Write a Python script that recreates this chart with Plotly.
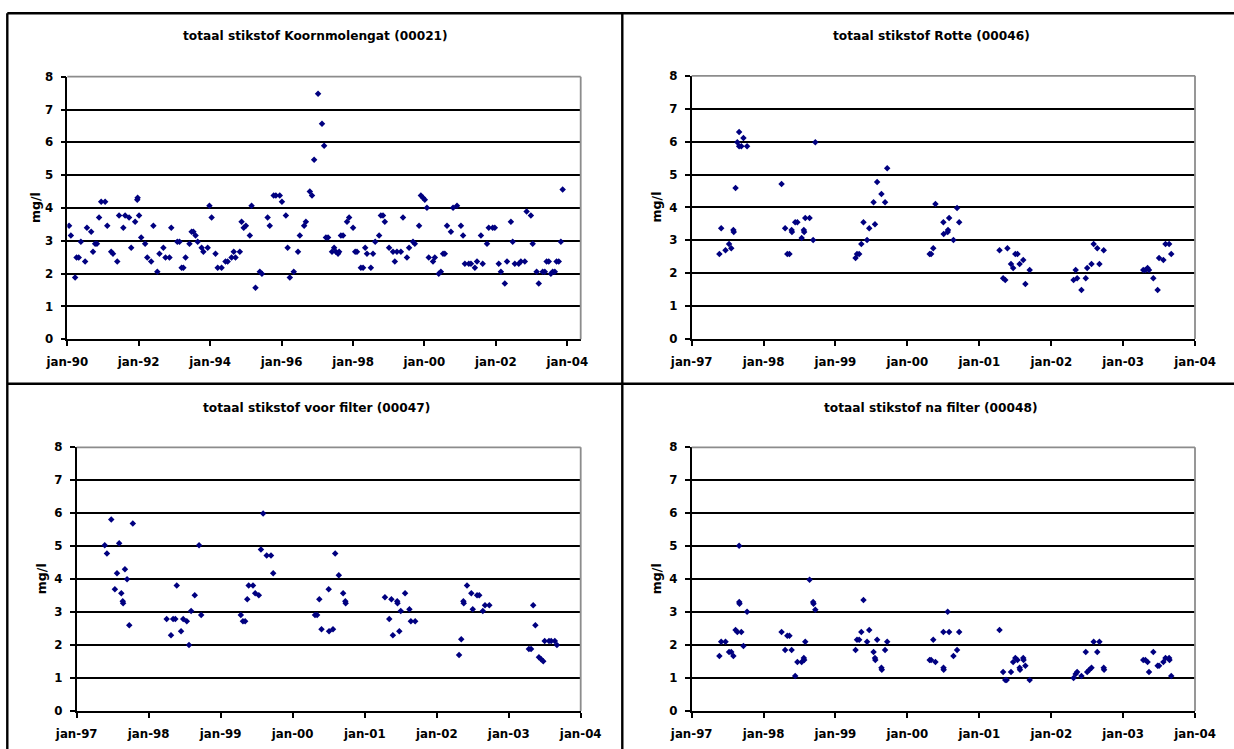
import numpy as np
import pandas as pd
import plotly.graph_objects as go

# ---------------- data (decimal year, mg/l) ----------------
koorn_t = [1990.05, 1990.10, 1990.22, 1990.26, 1990.32, 1990.38, 1990.50, 1990.55, 1990.67, 1990.72,
           1990.78, 1990.83, 1990.89, 1990.95, 1991.06, 1991.12, 1991.23, 1991.28, 1991.40, 1991.45,
           1991.57, 1991.62, 1991.73, 1991.79, 1991.90, 1991.96, 1991.97, 1992.01, 1992.07, 1992.18,
           1992.24, 1992.35, 1992.41, 1992.52, 1992.58, 1992.69, 1992.75, 1992.86, 1992.91, 1993.08,
           1993.14, 1993.20, 1993.25, 1993.31, 1993.42, 1993.48, 1993.53, 1993.59, 1993.65, 1993.76,
           1993.81, 1993.93, 1993.98, 1994.04, 1994.15, 1994.21, 1994.32, 1994.43, 1994.49, 1994.60,
           1994.66, 1994.71, 1994.83, 1994.88, 1994.94, 1995.00, 1995.11, 1995.16, 1995.27, 1995.39,
           1995.45, 1995.61, 1995.67, 1995.78, 1995.84, 1995.95, 1996.01, 1996.12, 1996.17, 1996.23,
           1996.34, 1996.46, 1996.51, 1996.63, 1996.68, 1996.79, 1996.85, 1996.91, 1997.02, 1997.13,
           1997.19, 1997.24, 1997.30, 1997.41, 1997.47, 1997.52, 1997.58, 1997.61, 1997.66, 1997.72,
           1997.83, 1997.89, 1998.00, 1998.06, 1998.11, 1998.22, 1998.28, 1998.34, 1998.39, 1998.50,
           1998.56, 1998.62, 1998.73, 1998.78, 1998.84, 1998.89, 1999.01, 1999.12, 1999.17, 1999.23,
           1999.34, 1999.40, 1999.51, 1999.57, 1999.68, 1999.73, 1999.85, 1999.90, 1999.96, 2000.01,
           2000.07, 2000.12, 2000.24, 2000.29, 2000.40, 2000.46, 2000.52, 2000.57, 2000.63, 2000.74,
           2000.80, 2000.91, 2001.02, 2001.08, 2001.13, 2001.24, 2001.30, 2001.41, 2001.47, 2001.58,
           2001.63, 2001.75, 2001.80, 2001.91, 2001.97, 2002.08, 2002.14, 2002.25, 2002.31, 2002.42,
           2002.47, 2002.53, 2002.64, 2002.70, 2002.81, 2002.86, 2002.98, 2003.03, 2003.14, 2003.20,
           2003.31, 2003.37, 2003.42, 2003.48, 2003.54, 2003.59, 2003.65, 2003.70, 2003.76, 2003.82,
           2003.87]
koorn_v = [3.46, 3.16, 1.88, 2.49, 2.49, 2.97, 2.37, 3.40, 3.28, 2.67,
           2.91, 2.91, 3.71, 4.19, 4.19, 3.46, 2.67, 2.61, 2.37, 3.77,
           3.40, 3.77, 3.71, 2.79, 3.58, 4.25, 4.31, 3.77, 3.10, 2.91,
           2.49, 2.37, 3.46, 2.06, 2.61, 2.79, 2.49, 2.49, 3.40, 2.97,
           2.97, 2.18, 2.18, 2.49, 2.91, 3.28, 3.28, 3.16, 2.97, 2.79,
           2.67, 2.79, 4.07, 3.71, 2.61, 2.18, 2.18, 2.37, 2.37, 2.49,
           2.67, 2.49, 2.67, 3.58, 3.40, 3.46, 3.16, 4.07, 1.57, 2.06,
           2.00, 3.71, 3.46, 4.38, 4.38, 4.38, 4.19, 3.77, 2.79, 1.88,
           2.06, 2.67, 3.16, 3.46, 3.58, 4.50, 4.38, 5.47, 7.48, 6.57,
           5.90, 3.10, 3.10, 2.67, 2.79, 2.67, 2.61, 2.67, 3.16, 3.16,
           3.58, 3.71, 3.40, 2.67, 2.67, 2.18, 2.18, 2.79, 2.61, 2.18,
           2.61, 2.97, 3.16, 3.77, 3.77, 3.58, 2.79, 2.67, 2.37, 2.67,
           2.67, 3.71, 2.49, 2.79, 2.97, 2.91, 3.46, 4.38, 4.31, 4.25,
           4.01, 2.49, 2.37, 2.49, 2.00, 2.06, 2.61, 2.61, 3.46, 3.28,
           4.01, 4.07, 3.46, 3.16, 2.30, 2.30, 2.30, 2.18, 2.37, 3.16,
           2.30, 2.91, 3.40, 3.40, 3.40, 2.30, 2.06, 1.70, 2.37, 3.58,
           2.97, 2.30, 2.30, 2.37, 2.37, 3.89, 3.77, 2.91, 2.06, 1.70,
           2.06, 2.06, 2.37, 2.37, 2.00, 2.06, 2.06, 2.37, 2.37, 2.97,
           4.56]

rotte_t = [1997.385, 1997.41, 1997.47, 1997.52, 1997.55, 1997.58, 1997.585, 1997.61, 1997.635, 1997.66,
           1997.66, 1997.69, 1997.72, 1997.77,
           1998.25, 1998.30, 1998.33, 1998.36, 1998.39, 1998.395, 1998.44, 1998.47, 1998.53, 1998.56,
           1998.565, 1998.58, 1998.64, 1998.69, 1998.72,
           1999.28, 1999.30, 1999.33, 1999.36, 1999.39, 1999.44, 1999.47, 1999.53, 1999.55, 1999.58,
           1999.64, 1999.69, 1999.72,
           2000.31, 2000.33, 2000.36, 2000.39, 2000.50, 2000.505, 2000.56, 2000.565, 2000.58, 2000.64,
           2000.69, 2000.72,
           2001.28, 2001.33, 2001.36, 2001.39, 2001.44, 2001.47, 2001.50, 2001.53, 2001.56, 2001.61,
           2001.64, 2001.70,
           2002.31, 2002.34, 2002.36, 2002.42, 2002.48, 2002.50, 2002.56, 2002.59, 2002.64, 2002.67,
           2002.73,
           2003.28, 2003.31, 2003.34, 2003.36, 2003.42, 2003.48, 2003.50, 2003.56, 2003.59, 2003.64,
           2003.67]
rotte_v = [2.58, 3.37, 2.70, 2.89, 2.76, 3.31, 3.25, 4.59, 5.98, 6.29,
           5.86, 5.86, 6.11, 5.86,
           4.71, 3.37, 2.58, 2.58, 3.31, 3.25, 3.55, 3.55, 3.07, 3.31,
           3.25, 3.68, 3.68, 3.01, 5.98,
           2.46, 2.58, 2.58, 2.89, 3.55, 3.01, 3.37, 4.16, 3.49, 4.77,
           4.41, 4.16, 5.19,
           2.58, 2.58, 2.76, 4.10, 3.55, 3.19, 3.25, 3.31, 3.68, 3.01,
           3.98, 3.55,
           2.70, 1.85, 1.79, 2.76, 2.28, 2.16, 2.58, 2.58, 2.28, 2.40,
           1.67, 2.10,
           1.79, 2.10, 1.85, 1.49, 1.85, 2.16, 2.28, 2.89, 2.76, 2.28,
           2.70,
           2.10, 2.10, 2.16, 2.10, 1.85, 1.49, 2.46, 2.40, 2.89, 2.89,
           2.58]

voor_t = [1997.39, 1997.42, 1997.48, 1997.53, 1997.56, 1997.59, 1997.62, 1997.64, 1997.645, 1997.67,
          1997.70, 1997.73, 1997.78,
          1998.25, 1998.31, 1998.34, 1998.37, 1998.39, 1998.45, 1998.48, 1998.53, 1998.56, 1998.59,
          1998.64, 1998.70, 1998.73,
          1999.28, 1999.31, 1999.34, 1999.37, 1999.39, 1999.45, 1999.48, 1999.53, 1999.56, 1999.59,
          1999.64, 1999.70, 1999.73,
          2000.31, 2000.34, 2000.37, 2000.40, 2000.50, 2000.505, 2000.56, 2000.59, 2000.64, 2000.70,
          2000.73, 2000.735,
          2001.28, 2001.34, 2001.37, 2001.39, 2001.45, 2001.455, 2001.48, 2001.50, 2001.56, 2001.62,
          2001.64, 2001.70,
          2002.31, 2002.34, 2002.37, 2002.375, 2002.42, 2002.48, 2002.50, 2002.56, 2002.59, 2002.64,
          2002.67, 2002.73,
          2003.28, 2003.31, 2003.34, 2003.37, 2003.42, 2003.45, 2003.48, 2003.50, 2003.56, 2003.59,
          2003.64, 2003.67]
voor_v = [5.03, 4.78, 5.81, 3.69, 4.18, 5.09, 3.57, 3.33, 3.27, 4.30,
          4.00, 2.60, 5.69,
          2.79, 2.30, 2.79, 2.79, 3.81, 2.42, 2.79, 2.72, 2.00, 3.03,
          3.51, 5.03, 2.91,
          2.91, 2.72, 2.72, 3.39, 3.81, 3.81, 3.57, 3.51, 4.90, 5.99,
          4.72, 4.72, 4.18,
          2.91, 2.91, 3.39, 2.48, 3.69, 2.42, 2.48, 4.78, 4.12, 3.57,
          3.33, 3.27,
          3.45, 2.79, 3.39, 2.30, 3.33, 3.27, 2.42, 3.03, 3.57, 3.09,
          2.72, 2.72,
          1.70, 2.18, 3.33, 3.27, 3.81, 3.57, 3.09, 3.51, 3.51, 3.03,
          3.21, 3.21,
          1.88, 1.88, 3.21, 2.60, 1.63, 1.57, 1.51, 2.12, 2.12, 2.12,
          2.12, 2.00]

na_t = [1997.385, 1997.41, 1997.47, 1997.52, 1997.55, 1997.58, 1997.61, 1997.635, 1997.66, 1997.662,
        1997.665, 1997.69, 1997.72, 1997.77,
        1998.25, 1998.30, 1998.33, 1998.36, 1998.39, 1998.44, 1998.47, 1998.53, 1998.56, 1998.565,
        1998.58, 1998.64, 1998.69, 1998.695, 1998.72,
        1999.28, 1999.30, 1999.33, 1999.36, 1999.39, 1999.44, 1999.47, 1999.53, 1999.55, 1999.555,
        1999.58, 1999.64, 1999.645, 1999.69, 1999.72,
        2000.31, 2000.33, 2000.36, 2000.39, 2000.50, 2000.502, 2000.505, 2000.56, 2000.58, 2000.64,
        2000.69, 2000.72,
        2001.28, 2001.33, 2001.36, 2001.38, 2001.44, 2001.47, 2001.50, 2001.53, 2001.56, 2001.565,
        2001.61, 2001.615, 2001.64, 2001.70,
        2002.31, 2002.34, 2002.36, 2002.42, 2002.48, 2002.50, 2002.53, 2002.56, 2002.59, 2002.64,
        2002.67, 2002.73, 2002.735,
        2003.28, 2003.31, 2003.34, 2003.36, 2003.42, 2003.48, 2003.50, 2003.56, 2003.59, 2003.64,
        2003.645, 2003.67]
na_v = [1.67, 2.10, 2.10, 1.79, 1.79, 1.67, 2.46, 2.40, 5.01, 3.31,
        3.25, 2.40, 1.97, 3.01,
        2.40, 1.85, 2.28, 2.28, 1.85, 1.06, 1.49, 1.49, 1.61, 1.55,
        2.10, 3.98, 3.31, 3.25, 3.07,
        1.85, 2.16, 2.16, 2.40, 3.37, 2.10, 2.46, 1.79, 1.61, 1.55,
        2.16, 1.31, 1.25, 1.85, 2.10,
        1.55, 1.55, 2.16, 1.49, 2.40, 1.31, 1.25, 3.01, 2.40, 1.67,
        1.85, 2.40,
        2.46, 1.18, 0.94, 0.94, 1.18, 1.49, 1.61, 1.55, 1.31, 1.25,
        1.61, 1.55, 1.37, 0.94,
        1.00, 1.12, 1.18, 1.06, 1.79, 1.18, 1.25, 1.31, 2.10, 1.79,
        2.10, 1.31, 1.25,
        1.55, 1.55, 1.49, 1.18, 1.79, 1.37, 1.37, 1.49, 1.61, 1.61,
        1.55, 1.06]

titles = ["totaal stikstof Koornmolengat (00021)", "totaal stikstof Rotte (00046)",
          "totaal stikstof voor filter (00047)", "totaal stikstof na filter (00048)"]
ticks_long = ["jan-90", "jan-92", "jan-94", "jan-96", "jan-98", "jan-00", "jan-02", "jan-04"]
ticks_long_dates = ["1990-01-01", "1992-01-01", "1994-01-01", "1996-01-01",
                    "1998-01-01", "2000-01-01", "2002-01-01", "2004-01-01"]
ticks_short = ["jan-97", "jan-98", "jan-99", "jan-00", "jan-01", "jan-02", "jan-03", "jan-04"]
ticks_short_dates = ["1997-01-01", "1998-01-01", "1999-01-01", "2000-01-01",
                     "2001-01-01", "2002-01-01", "2003-01-01", "2004-01-01"]
y_label = "mg/l"
y_ticks = [0, 1, 2, 3, 4, 5, 6, 7, 8]


def to_dates(years):
    out = []
    for y in years:
        yr = int(np.floor(y))
        start = pd.Timestamp(year=yr, month=1, day=1)
        end = pd.Timestamp(year=yr + 1, month=1, day=1)
        out.append(start + (end - start) * (y - yr))
    return out


W, H = 1234, 749
FONT = "DejaVu Sans"
NAVY = "#000080"

panels = [
    dict(t=koorn_t, v=koorn_v, title=titles[0], xl=67.3, xr=580.7, yt=76.7, yb=339.3,
         rng=["1990-01-01", "2004-05-17"], tv=ticks_long_dates, tt=ticks_long, cx=315, ty=36, lx=35),
    dict(t=rotte_t, v=rotte_v, title=titles[1], xl=691.7, xr=1195.0, yt=75.8, yb=339.0,
         rng=["1997-01-01", "2004-01-01"], tv=ticks_short_dates, tt=ticks_short, cx=931, ty=36, lx=656),
    dict(t=voor_t, v=voor_v, title=titles[2], xl=76.7, xr=580.7, yt=447.3, yb=711.0,
         rng=["1997-01-01", "2004-01-01"], tv=ticks_short_dates, tt=ticks_short, cx=316, ty=408, lx=41),
    dict(t=na_t, v=na_v, title=titles[3], xl=691.7, xr=1195.0, yt=447.3, yb=711.0,
         rng=["1997-01-01", "2004-01-01"], tv=ticks_short_dates, tt=ticks_short, cx=931, ty=408, lx=656),
]

fig = go.Figure()
layout = dict(width=W, height=H, margin=dict(l=0, r=0, t=0, b=0, pad=0),
              paper_bgcolor="white", plot_bgcolor="white", showlegend=False,
              font=dict(family=FONT, color="black"))
shapes = []
annotations = []

for i, p in enumerate(panels, start=1):
    sfx = "" if i == 1 else str(i)
    xa, ya = "xaxis" + sfx, "yaxis" + sfx
    fig.add_trace(go.Scatter(
        x=to_dates(p["t"]), y=p["v"], mode="markers",
        marker=dict(symbol="diamond", size=5, color=NAVY, line=dict(width=0)),
        xaxis="x" + sfx, yaxis="y" + sfx, hoverinfo="skip"))
    layout[xa] = dict(domain=[p["xl"] / W, p["xr"] / W], anchor="y" + sfx, type="date",
                      range=p["rng"], tickvals=p["tv"], ticktext=p["tt"],
                      showgrid=False, zeroline=False, showline=True, linecolor="black", linewidth=1.6,
                      ticks="outside", ticklen=5, tickwidth=1.6, tickcolor="black",
                      tickfont=dict(family=FONT, size=11.8, color="black", weight="bold"),
                      ticklabelstandoff=6, automargin=False, fixedrange=True)
    layout[ya] = dict(domain=[1 - p["yb"] / H, 1 - p["yt"] / H], anchor="x" + sfx,
                      range=[0, 8], tickvals=y_ticks, showgrid=True, gridcolor="black", gridwidth=1.6,
                      zeroline=False, showline=True, linecolor="black", linewidth=1.6,
                      ticks="outside", ticklen=5, tickwidth=1.6, tickcolor="black",
                      tickfont=dict(family=FONT, size=11.8, color="black", weight="bold"),
                      ticklabelstandoff=5, automargin=False, fixedrange=True)
    # gray plot-area border (top and right)
    shapes.append(dict(type="line", xref="x" + sfx + " domain", yref="y" + sfx + " domain",
                       x0=0, x1=1, y0=1, y1=1, line=dict(color="#8c8c8c", width=1.8), layer="above"))
    shapes.append(dict(type="line", xref="x" + sfx + " domain", yref="y" + sfx + " domain",
                       x0=1, x1=1, y0=0, y1=1, line=dict(color="#8c8c8c", width=1.8), layer="above"))
    annotations.append(dict(text="<b>" + p["title"] + "</b>", x=p["cx"] / W, y=1 - p["ty"] / H,
                            xref="paper", yref="paper", xanchor="center", yanchor="middle",
                            showarrow=False, font=dict(family=FONT, size=12.2, color="black")))
    annotations.append(dict(text="<b>" + y_label + "</b>", x=p["lx"] / W,
                            y=1 - (p["yt"] + p["yb"]) / 2 / H, textangle=-90,
                            xref="paper", yref="paper", xanchor="center", yanchor="middle",
                            showarrow=False, font=dict(family=FONT, size=12.5, color="black")))

# outer cell frame
FR = dict(color="black", width=2.4)
shapes += [
    dict(type="line", xref="paper", yref="paper", x0=7.3 / W, x1=1.0, y0=1 - 13.3 / H, y1=1 - 13.3 / H, line=FR),
    dict(type="line", xref="paper", yref="paper", x0=7.3 / W, x1=7.3 / W, y0=0, y1=1 - 13.3 / H, line=FR),
    dict(type="line", xref="paper", yref="paper", x0=622.3 / W, x1=622.3 / W, y0=0, y1=1 - 13.3 / H, line=FR),
    dict(type="line", xref="paper", yref="paper", x0=7.3 / W, x1=1.0, y0=1 - 383.7 / H, y1=1 - 383.7 / H, line=FR),
]
layout["shapes"] = shapes
layout["annotations"] = annotations
fig.update_layout(**layout)
fig.write_html("out.html")
